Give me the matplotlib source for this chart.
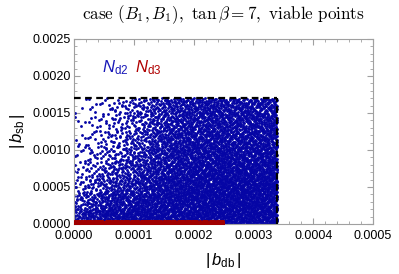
import numpy as np
import matplotlib.pyplot as plt

plt.rcParams['font.family'] = ['Liberation Sans', 'DejaVu Sans']
plt.rcParams['mathtext.fontset'] = 'custom'
plt.rcParams['mathtext.rm'] = 'Liberation Sans'
plt.rcParams['mathtext.it'] = 'Liberation Sans:italic'

# edges of the viable region (dashed box)
x_edge = 0.00034
y_edge = 0.0017

# N_d2 point counts per cell
# rows go bottom -> top, columns left -> right, 8 x 16 cells inside the box
nd2_counts = [
    [42, 52, 62, 66, 66, 68, 70, 72, 72, 72, 72, 72, 72, 72, 72, 72],
    [26, 34, 45, 52, 56, 60, 62, 66, 68, 70, 72, 72, 72, 72, 72, 72],
    [15, 22, 31, 37, 42, 48, 55, 60, 64, 68, 70, 72, 72, 72, 72, 72],
    [10, 15, 22, 28, 34, 40, 48, 55, 60, 64, 66, 68, 68, 68, 68, 68],
    [7, 11, 16, 21, 27, 34, 42, 50, 55, 58, 60, 62, 62, 62, 62, 62],
    [5, 8, 12, 16, 22, 28, 38, 46, 52, 55, 57, 58, 58, 58, 58, 58],
    [4, 6, 9, 14, 19, 26, 35, 42, 48, 51, 53, 54, 54, 54, 54, 54],
    [3, 5, 8, 12, 17, 24, 33, 40, 45, 48, 50, 50, 50, 50, 50, 50],
]

# N_d3 points sit in a thin strip along the bottom
nd3_x_edge = 0.00025
nd3_y_edge = 0.00004
nd3_counts = [80, 80, 80, 80, 80, 80, 80, 80, 80, 80]

x_ticks = [0.0, 0.0001, 0.0002, 0.0003, 0.0004, 0.0005]
y_ticks = [0.0, 0.0005, 0.0010, 0.0015, 0.0020, 0.0025]


def halton(i, base):
    f, r = 1.0, np.zeros(len(i))
    i = i.copy()
    while np.any(i > 0):
        f = f / base
        r = r + f * (i % base)
        i = i // base
    return r


def spread(x0, x1, y0, y1, n, start):
    # spread n points over one cell (Halton 2,3)
    i = np.arange(start, start + n)
    u = halton(i, 2)
    v = halton(i, 3)
    return x0 + u * (x1 - x0), y0 + v * (y1 - y0)


def points(counts, xe, ye):
    rows = len(counts)
    cols = len(counts[0])
    xs, ys = [], []
    k = 0
    for r in range(rows):
        for c in range(cols):
            n = counts[r][c]
            x, y = spread(c * xe / cols, (c + 1) * xe / cols,
                          r * ye / rows, (r + 1) * ye / rows, n, 7 + k * 331)
            xs.append(x)
            ys.append(y)
            k += 1
    return np.concatenate(xs), np.concatenate(ys)


bx, by = points(nd2_counts, x_edge, y_edge)
rx, ry = points([nd3_counts], nd3_x_edge, nd3_y_edge)

fig = plt.figure(figsize=(3.99, 2.74), dpi=100)
ax = fig.add_axes([0.1855, 0.1825, 0.7495, 0.6752])

ax.scatter(bx, by, s=4.2, color='#0505a5', linewidths=0, zorder=2)
ax.scatter(rx, ry, s=5.0, color='#a00000', linewidths=0, zorder=3)

ax.plot([0, x_edge], [y_edge, y_edge], color='black', lw=1.6,
        dashes=(3, 2), zorder=4, clip_on=False)
ax.plot([x_edge, x_edge], [0, y_edge], color='black', lw=1.6,
        dashes=(3, 2), zorder=4)

ax.set_xlim(0, 0.0005)
ax.set_ylim(0, 0.0025)
ax.set_xticks(x_ticks)
ax.set_yticks(y_ticks)
ax.set_xticklabels(['%.4f' % t for t in x_ticks])
ax.set_yticklabels(['%.4f' % t for t in y_ticks])
ax.set_xticks(np.arange(0, 0.0005, 0.00002), minor=True)
ax.set_yticks(np.arange(0, 0.0025, 0.0001), minor=True)
ax.tick_params(which='both', direction='in', top=True, right=True,
               color='#a0a0a0', labelsize=9)
ax.tick_params(axis='x', pad=4)
ax.tick_params(axis='y', pad=2)
ax.tick_params(which='major', length=4)
ax.tick_params(which='minor', length=2)
for sp in ax.spines.values():
    sp.set_color('#a0a0a0')

ax.set_xlabel(r'$|\,b_{\mathrm{db}}\,|$', fontsize=12, labelpad=7)
ax.set_ylabel(r'$|\,b_{\mathrm{sb}}\,|$', fontsize=12, labelpad=4)

ax.text(0.0000465, 0.00211, r'$N_{\mathrm{d2}}$', color='#1818b8',
        fontsize=12, va='center')
ax.text(0.0001025, 0.00211, r'$N_{\mathrm{d3}}$', color='#b00000',
        fontsize=12, va='center')

fig.text(0.56, 0.945,
         r'$\mathrm{case}\ (B_1, B_1),\ \tan\beta = 7,\ \mathrm{viable\ points}$',
         ha='center', va='center', fontsize=12.3, math_fontfamily='cm')

fig.savefig('out.png', dpi=100)
